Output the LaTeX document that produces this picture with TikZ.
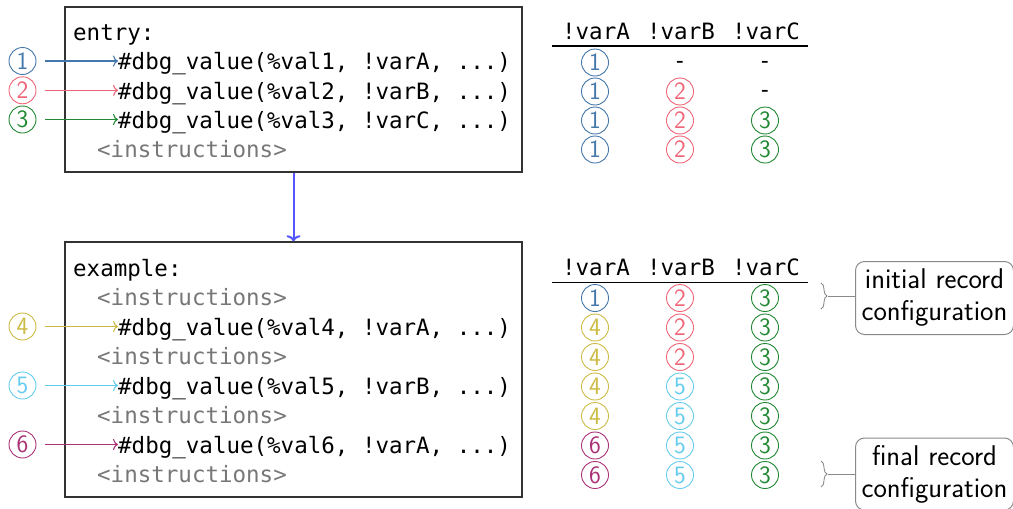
\documentclass[tikz,border=0pt]{standalone}
\usepackage{fontspec}
\setmonofont{DejaVu Sans Mono}
\usetikzlibrary{arrows.meta,decorations.pathreplacing}

% Paul Tol "bright" palette for the record numbers
\definecolor{num1}{HTML}{4477AA}
\definecolor{num2}{HTML}{EE6677}
\definecolor{num3}{HTML}{228833}
\definecolor{num4}{HTML}{CCBB44}
\definecolor{num5}{HTML}{66CCEE}
\definecolor{num6}{HTML}{AA3377}
\definecolor{flowblue}{HTML}{5555FF}
\definecolor{instrgray}{HTML}{777777}
\definecolor{notegray}{HTML}{8A8A8A}

\newcommand\codefont{\fontsize{22.5}{26}\selectfont\ttfamily\frenchspacing}
\newcommand\numfont{\fontsize{25}{25}\selectfont\sffamily}
\newcommand\notefont{\fontsize{28.5}{32}\selectfont\sffamily}
\newcommand\us{\char"5F\relax}

% one cell of a record table: name, x, y, value (a digit or -)
\newcommand\tabcell[4]{%
  \ifx-#4\node[dashcell] (#1) at (#2,#3+6) {-};%
  \else\node[cnum=#4] (#1) at (#2,#3) {#4};\fi}

\tikzset{
  codebox/.style={draw=black!80, line width=1.5pt, inner sep=0pt},
  code/.style={anchor=base west, inner sep=0pt, font=\codefont},
  instr/.style={code, text=instrgray},
  header/.style={anchor=base, inner sep=0pt, font=\codefont},
  dashcell/.style={anchor=base, inner sep=0pt, font=\codefont},
  cnum/.style={circle, draw=num#1, text=num#1, line width=0.9pt,
    minimum size=27pt, inner sep=0pt, font=\numfont},
  marker/.style={draw=num#1, line width=1.1pt, -{To[length=5pt,width=11pt]}},
  flow/.style={draw=flowblue, line width=2pt, -{To[length=6pt,width=14pt]}},
  brace/.style={draw=notegray, line width=0.9pt,
    decorate, decoration={brace, amplitude=6pt}},
  notebox/.style={draw=notegray, line width=1pt, rounded corners=9pt,
    minimum width=158pt, align=center, font=\notefont, inner sep=0pt},
}

\begin{document}
\begin{tikzpicture}[x=1pt, y=-1pt]
\useasboundingbox (0,0) rectangle (1013,509);

% ---- basic blocks ----
\node[codebox, minimum width=457pt, minimum height=165pt] (entry) at (293.5,89.5) {};
\node[codebox, minimum width=457pt, minimum height=255pt] (example) at (293.5,369.5) {};
\draw[flow] (entry.south) -- (example.north);

% entry block
\node[code] (e0) at (73,40) {entry:};
\node[code] (e1) at (118,69.8) {\#dbg\us value(\%val1, !varA, ...)};
\node[code] (e2) at (118,99) {\#dbg\us value(\%val2, !varB, ...)};
\node[code] (e3) at (118,128.2) {\#dbg\us value(\%val3, !varC, ...)};
\node[instr] (e4) at (97,157.5) {<instructions>};

% example block
\node[code] (x0) at (73,276) {example:};
\node[instr] (x1) at (97,305) {<instructions>};
\node[code] (x2) at (118,335) {\#dbg\us value(\%val4, !varA, ...)};
\node[instr] (x3) at (97,364.5) {<instructions>};
\node[code] (x4) at (118,394) {\#dbg\us value(\%val5, !varB, ...)};
\node[instr] (x5) at (97,423.5) {<instructions>};
\node[code] (x6) at (118,453) {\#dbg\us value(\%val6, !varA, ...)};
\node[instr] (x7) at (97,482.5) {<instructions>};

% numbered markers pointing at the debug records
\node[cnum=1] (m1) at (22.5,61) {1};
\node[cnum=2] (m2) at (22.5,90.3) {2};
\node[cnum=3] (m3) at (22.5,119.5) {3};
\node[cnum=4] (m4) at (22.5,326.5) {4};
\node[cnum=5] (m5) at (22.5,385.5) {5};
\node[cnum=6] (m6) at (22.5,444.5) {6};
\draw[marker=1] (m1.east) ++(9,0) -- (m1 -| e1.west);
\draw[marker=2] (m2.east) ++(9,0) -- (m2 -| e2.west);
\draw[marker=3] (m3.east) ++(9,0) -- (m3 -| e3.west);
\draw[marker=4] (m4.east) ++(9,0) -- (m4 -| x2.west);
\draw[marker=5] (m5.east) ++(9,0) -- (m5 -| x4.west);
\draw[marker=6] (m6.east) ++(9,0) -- (m6 -| x6.west);

% ---- variable location tables ----
\foreach \t/\y in {ha/39, hb/275} {
  \node[header] (\t A) at (596,\y) {!varA};
  \node[header] (\t B) at (681,\y) {!varB};
  \node[header] (\t C) at (766,\y) {!varC};
}
\draw[line width=1.3pt] (552,46) -- (808,46);
\draw[line width=1.3pt] (552,282.5) -- (808,282.5);

\foreach \a/\b/\c [count=\r] in {1/-/-, 1/2/-, 1/2/3, 1/2/3} {
  \pgfmathsetmacro\yy{62.5+29*(\r-1)}
  \edef\cells{%
    \noexpand\tabcell{ta\r}{595}{\yy}{\a}%
    \noexpand\tabcell{tb\r}{680}{\yy}{\b}%
    \noexpand\tabcell{tc\r}{765}{\yy}{\c}}
  \cells
}
\foreach \a/\b/\c [count=\r] in {1/2/3, 4/2/3, 4/2/3, 4/5/3, 4/5/3, 6/5/3, 6/5/3} {
  \pgfmathsetmacro\yy{298+29.5*(\r-1)}
  \edef\cells{%
    \noexpand\tabcell{ua\r}{595}{\yy}{\a}%
    \noexpand\tabcell{ub\r}{680}{\yy}{\b}%
    \noexpand\tabcell{uc\r}{765}{\yy}{\c}}
  \cells
}

% ---- annotations ----
\node[notebox, minimum height=73pt] (init) at (934.5,298) {initial record\\configuration};
\node[notebox, minimum height=72pt] (final) at (934.5,474) {final record\\configuration};
\draw[brace] (821,283) -- (821,309);
\draw[brace] (821,461) -- (821,487);
\coordinate (b1) at (828,296);
\coordinate (b2) at (828,474);
\draw[draw=notegray, line width=0.9pt] (b1) -- (b1 -| init.west);
\draw[draw=notegray, line width=0.9pt] (b2) -- (b2 -| final.west);
\end{tikzpicture}
\end{document}
